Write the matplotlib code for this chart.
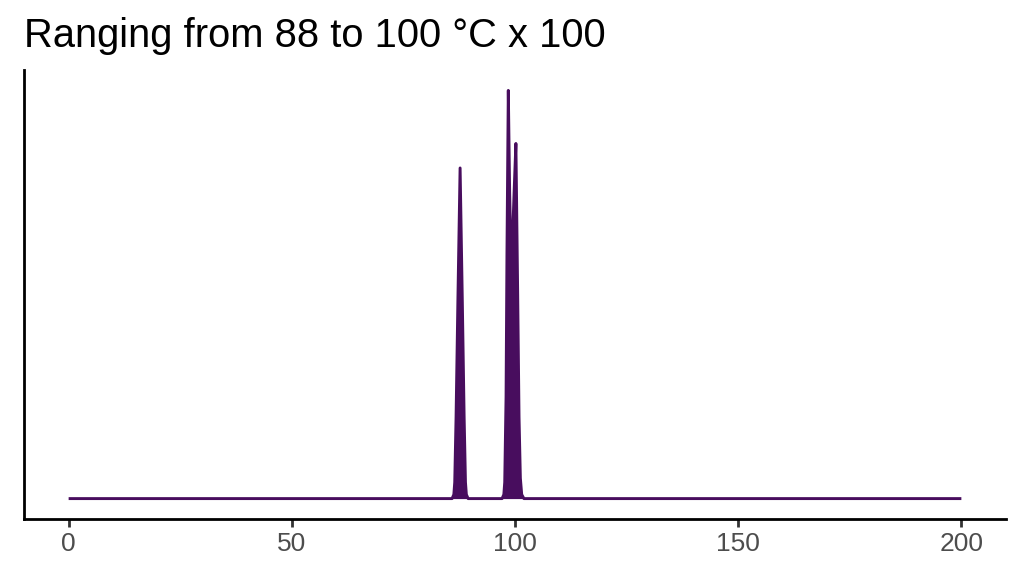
import numpy as np
import matplotlib
matplotlib.use("Agg")
import matplotlib.pyplot as plt

# curve vertices (x in units, y as density relative to tallest peak)
curve_x = [0, 85.9, 86.3, 86.5, 86.8, 87.2, 87.7, 88.2, 88.6, 88.9, 89.1, 89.5,
           97.1, 97.5, 97.7, 98.0, 98.2, 98.5, 98.8, 99.1, 99.4, 99.8, 100.2,
           100.6, 100.9, 101.2, 101.5, 102.0, 200]
curve_y = [0, 0, 0.01, 0.04, 0.2, 0.48, 0.81, 0.48, 0.2, 0.04, 0.01, 0,
           0, 0.01, 0.04, 0.25, 0.6, 1.0, 0.75, 0.6, 0.62, 0.75, 0.87,
           0.5, 0.2, 0.05, 0.01, 0, 0]

x_ticks = [0, 50, 100, 150, 200]
title = "Ranging from 88 to 100 °C x 100"
color = "#480D5E"

plt.rcParams['font.family'] = ['Liberation Sans', 'DejaVu Sans']

fig = plt.figure(figsize=(10.24, 5.76), dpi=100)
ax = fig.add_axes([24 / 1024, 57 / 576, 982 / 1024, 449 / 576])

ax.fill_between(curve_x, curve_y, 0, color=color, linewidth=0)
ax.plot(curve_x, curve_y, color=color, linewidth=2.1, solid_capstyle='butt')

ax.set_xlim(-10, 210)
ax.set_ylim(-0.05, 1.05)

ax.set_xticks(x_ticks)
ax.set_xticklabels([str(t) for t in x_ticks])
ax.set_yticks([])
ax.tick_params(axis='x', length=5.5, width=2, color='#333333', labelsize=19,
               labelcolor='#4D4D4D', pad=4)

for side in ['top', 'right']:
    ax.spines[side].set_visible(False)
for side in ['left', 'bottom']:
    ax.spines[side].set_linewidth(2)
    ax.spines[side].set_color('black')

fig.text(24 / 1024, 1 - 47 / 576, title, fontsize=28.7, va='baseline', ha='left')

plt.savefig('out.png', dpi=100)
